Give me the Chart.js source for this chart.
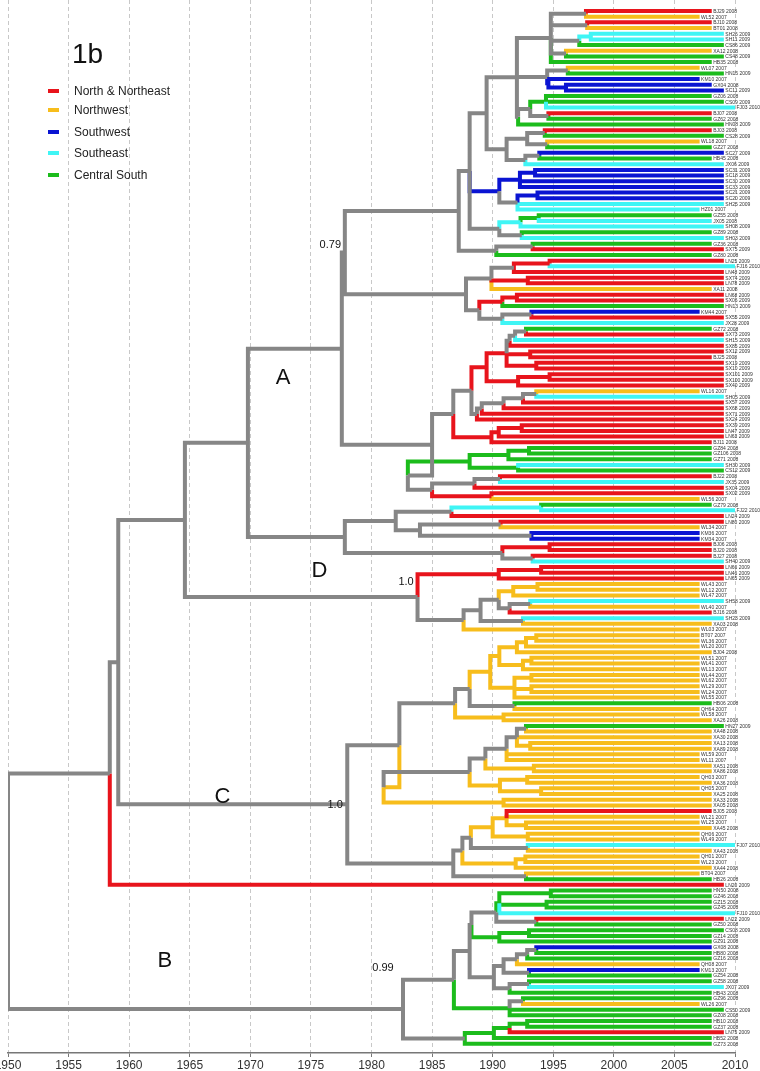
<!DOCTYPE html>
<html>
<head>
<meta charset="utf-8">
<script src="https://cdn.jsdelivr.net/npm/chart.js@4.4.0/dist/chart.umd.min.js"></script>
<style>
  body { margin: 0; background: #fff; }
  #wrap { position: relative; width: 760px; height: 1071px; }
  #title { position: absolute; left: 72px; top: 40px; font: 28px/1 "Liberation Sans", sans-serif; color: #111; }
  .leg { position: absolute; left: 48px; height: 14px; display: flex; align-items: center; font: 12px/1 "Liberation Sans", sans-serif; color: #222; }
  .leg span { display: inline-block; width: 11px; height: 4px; margin-right: 15px; }
</style>
</head>
<body>
<div id="wrap">
  <canvas id="tree" width="760" height="1071"></canvas>
  <div id="title">1b</div>
  <div class="leg" style="top:84px"><span style="background:#e8141c"></span>North &amp; Northeast</div>
  <div class="leg" style="top:103px"><span style="background:#f7bd1c"></span>Northwest</div>
  <div class="leg" style="top:125px"><span style="background:#0a14d2"></span>Southwest</div>
  <div class="leg" style="top:146px"><span style="background:#3ff5f5"></span>Southeast</div>
  <div class="leg" style="top:168px"><span style="background:#1cbc1c"></span>Central South</div>
</div>
<script>
// tips, top to bottom
const leafNames = [
  "BJ29 2008","WL52 2007","BJ10 2008","BT01 2008","SH26 2009","SH11 2009","CS86 2009","XA12 2008","CS48 2009","HB35 2008",
  "WL07 2007","HN15 2009","KM10 2007","GX04 2008","SC11 2009","GZ06 2008","CS09 2009","FJ03 2010","BJ07 2008","GZ62 2008",
  "HN08 2009","BJ03 2008","CS28 2009","WL18 2007","GZ27 2008","SC27 2009","HB45 2008","JX06 2009","SC31 2009","SC18 2009",
  "SC30 2009","SC33 2009","SC21 2009","SC20 2009","SH25 2009","HZ01 2007","GZ55 2008","JX05 2008","SH08 2009","GZ89 2008",
  "SH03 2009","GZ36 2008","SX75 2009","GZ80 2008","LN25 2009","FJ16 2010","LN48 2009","SX74 2009","LN78 2009","XA11 2008",
  "LN68 2009","SX06 2009","HN13 2009","KM44 2007","SX55 2009","JX28 2009","GZ72 2008","SX73 2009","SH15 2009","SX85 2009",
  "SX12 2009","BJ25 2008","SX19 2009","SX10 2009","SX101 2009","SX100 2009","SX40 2009","WL16 2007","SH05 2009","SX57 2009",
  "SX68 2009","SX71 2009","SX24 2009","SX39 2009","LN47 2009","LN63 2009","BJ11 2008","GZ84 2008","GZ106 2008","GZ71 2008",
  "SH30 2009","CS12 2009","BJ22 2008","JX35 2009","SX04 2009","SX02 2009","WL56 2007","GZ79 2008","FJ22 2010","LN24 2009",
  "LN80 2009","WL34 2007","KM36 2007","KM34 2007","BJ06 2008","BJ20 2008","BJ27 2008","SH40 2009","LN66 2009","LN46 2009",
  "LN65 2009","WL43 2007","WL12 2007","WL47 2007","SH58 2009","WL40 2007","BJ16 2008","SH23 2009","XA03 2008","WL03 2007",
  "BT07 2007","WL36 2007","WL20 2007","BJ04 2008","WL51 2007","WL41 2007","WL13 2007","WL44 2007","WL62 2007","WL29 2007",
  "WL24 2007","WL55 2007","HB06 2008","QH64 2007","WL58 2007","XA26 2008","HN27 2009","XA48 2008","XA30 2008","XA13 2008",
  "XA89 2008","WL59 2007","WL11 2007","XA51 2008","XA86 2008","QH03 2007","XA36 2008","QH05 2007","XA25 2008","XA33 2008",
  "XA05 2008","BJ05 2008","WL21 2007","WL25 2007","XA45 2008","QH06 2007","WL49 2007","FJ07 2010","XA43 2008","QH01 2007",
  "WL23 2007","XA44 2008","BT04 2007","HB26 2008","LN20 2009","HN50 2008","GZ46 2008","GZ15 2008","GZ45 2008","FJ10 2010",
  "LN22 2009","GZ50 2008","CS08 2009","GZ14 2008","GZ91 2008","GX08 2008","HB80 2008","GZ16 2008","QH08 2007","KM13 2007",
  "GZ54 2008","GZ58 2008","JX07 2009","HB43 2008","GZ96 2008","WL26 2007","CS50 2009","GZ08 2008","HB10 2008","GZ37 2008",
  "LN75 2009","HB52 2008","GZ73 2008"
];

// r North & Northeast, y Northwest, b Southwest, c Southeast, g Central South
const leafRegions = (
  "r y r y c c g y g g y g b b b g g c r g " +
  "g r g y g b g c b b b b b b c c g c c g " +
  "c g r g r c r r r y r r g b r c g r c r " +
  "r r r r r r r y c r r r r r r r r g g g " +
  "c g r c r r y g c r r y b b r r r c r r " +
  "r y y y c y r c y y y y y y y y y y y y " +
  "y y g y y y g y y y y y y y y y y y y y " +
  "y r y y y y y c y y y y y g r g g g g c " +
  "r g g g g b g g y b g g c g g y g g g g r g g"
).trim().split(/\s+/);

const tickYears = [1950, 1955, 1960, 1965, 1970, 1975, 1980, 1985, 1990, 1995, 2000, 2005, 2010];

const regionColors = { x: "#868686", r: "#e8141c", y: "#f7bd1c", b: "#0a14d2", c: "#3ff5f5", g: "#1cbc1c" };

// internal nodes: [date, branch colour, ...children]; numbers are tips (1-based)
const cladeTop = [1987.2, "x",
  [1988.1, "x",
    [1989.5, "x",
      [1992.0, "x",
        [1994.8, "x", [1997.7, "x", 1, 2], [1997.8, "x", 3, 4], [1997.15, "x", [1998.1, "c", 5, 6], 7], [1996.05, "x", 8, 9], 10],
        [1994.5, "x", [1996.2, "x", 11, 12], [1994.6, "b", 13, [1996.05, "b", 14, 15]]],
        [1992.1, "x", [1993.1, "x", [1994.4, "g", 16, 17, 18], [1994.6, "x", 19, 20]], 21]],
      [1991.15, "x", [1992.85, "x", [1994.3, "x", 22, 23], [1994.5, "x", 24, 25]], [1992.7, "x", [1993.85, "x", 26, 27], 28]]],
    [1990.55, "b", [1992.25, "b", [1993.5, "b", 29, 30], 31, 32], [1992.05, "x", [1993.7, "b", 33, 34], 35, 36]],
    [1990.55, "x", [1992.3, "c", [1993.8, "g", 37, 38], 39], [1992.4, "x", 40, 41]]],
  [1990.3, "x", [1993.3, "x", 42, 43], 44]];

const cladeRed1 = [1987.8, "x",
  [1989.9, "x", [1991.75, "x", [1994.7, "r", 45, 46], 47], [1992.9, "r", 48, 49], 50],
  [1988.9, "x", [1990.8, "r", [1992.0, "r", 51, 52], 53], [1990.8, "x", [1993.2, "x", 54, 55], 56]]];

const cladeRed2 = [1986.75, "x",
  [1988.25, "x",
    [1989.5, "r",
      [1991.15, "r", [1991.4, "x", [1991.85, "x", [1992.75, "x", 57, 58], 59], 60], [1993.1, "r", 61, 62], [1993.6, "r", 63, 64]],
      [1992.1, "r", [1994.7, "r", 65, 66], 67]],
    [1988.7, "x", [1989.1, "x", [1990.9, "x", [1992.5, "x", [1993.6, "x", 68, 69], 70], 71], 72], 73]],
  [1989.9, "r", [1990.5, "r", [1992.4, "r", 74, 75], 76], 77]];

const cladeAmid = [1983.0, "x",
  [1988.1, "g", [1991.3, "g", [1993.0, "g", 78, 79], 80], [1992.1, "g", 81, 82]],
  [1985.0, "x", [1988.5, "x", [1990.6, "x", 83, 84], 85], [1989.9, "r", 86, 87]]];

const cladeAbot = [1977.8, "x",
  [1982.0, "x", [1986.6, "x", [1994.0, "c", 88, 89], 90], [1984.0, "x", [1990.65, "x", 91, 92], [1993.2, "x", 93, 94]]],
  [1990.8, "x", [1994.7, "r", 95, 96], [1993.3, "x", 97, 98]]];

const cladeA = [1977.55, "x",
  [1977.8, "x", cladeTop, cladeRed1],
  [1985.0, "x", cladeRed2, cladeAmid]];

const cladeD = [1983.8, "x",
  [1990.5, "r", [1994.0, "r", 99, 100], 101],
  [1987.6, "x",
    [1989.0, "x", [1990.5, "x", [1991.7, "y", [1993.7, "y", 102, 103], 104], [1991.4, "x", [1993.1, "x", 105, 106], 107]], [1992.5, "x", 108, 109]],
    110]];

const cladeCtop = [1986.9, "x",
  [1988.1, "x",
    [1989.8, "y",
      [1990.55, "y", [1992.0, "y", [1992.75, "y", [1993.6, "y", 111, 112], 113], 114], [1992.5, "y", [1993.2, "y", 115, 116], 117]],
      [1991.8, "y", [1993.2, "y", 118, 119], [1993.2, "y", 120, 121], 122]],
    [1991.8, "x", 123, 124]],
  [1990.9, "y", 125, 126]];

const cladeCmid = [1981.0, "y",
  [1988.1, "x",
    [1989.4, "x", [1991.15, "x", [1992.0, "x", [1992.75, "x", 127, 128], 129, [1993.1, "y", 130, 131]], 132, 133], [1993.4, "y", 134, 135]],
    [1990.6, "y", [1992.85, "y", 136, 137], [1994.0, "y", 138, 139]]],
  [1990.9, "y", 140, 141]];

const cladeCbot = [1986.75, "x",
  [1987.5, "x",
    [1988.2, "x", [1990.0, "y", [1991.15, "y", 142, 143, [1992.75, "y", 144, 145]], [1992.9, "y", 146, 147]], [1992.9, "x", 148, 149]],
    [1991.9, "y", [1992.7, "y", 150, 151], 152]],
  [1992.75, "x", 153, 154]];

const cladeC = [1978.0, "x", [1982.3, "x", cladeCtop, cladeCmid], cladeCbot];

const cladeBtop = [1986.8, "x",
  [1988.1, "x",
    [1988.25, "x",
      [1990.3, "x", [1990.55, "g", [1994.8, "g", 156, 157], [1994.45, "g", 158, 159], 160], [1993.6, "x", 161, 162]],
      [1990.55, "g", [1993.0, "g", 163, 164], 165]],
    [1990.1, "x",
      [1990.9, "x", [1992.0, "x", [1992.85, "x", [1993.6, "x", 166, 167], 168], 169], [1993.0, "x", 170, 171]],
      [1991.4, "x", [1993.0, "x", 172, 173], 174]]],
  [1991.4, "g", [1992.5, "x", 175, 176], 177, 178]];

const cladeBbot = [1987.7, "x", [1990.1, "g", [1991.4, "g", [1992.85, "g", 179, 180], 181], 182], 183];

const cladeB = [1982.6, "x", cladeBtop, cladeBbot];

const tree = [1950.0, "x",
  [1958.4, "x", [1959.1, "x", [1964.6, "x", [1969.8, "x", cladeA, cladeAbot], cladeD], cladeC], 155],
  cladeB];

const cladeLabels = [
  { text: "A", year: 1972.7, row: 64.7, size: 22 },
  { text: "0.79", year: 1976.6, row: 41.2, size: 11 },
  { text: "D", year: 1975.7, row: 98.7, size: 22 },
  { text: "1.0", year: 1982.85, row: 100.6, size: 11 },
  { text: "C", year: 1967.7, row: 138.5, size: 22 },
  { text: "1.0", year: 1977.0, row: 139.9, size: 11 },
  { text: "B", year: 1962.95, row: 167.4, size: 22 },
  { text: "0.99", year: 1980.95, row: 168.7, size: 11 }
];

function tipDate(i) {
  const yr = parseInt(leafNames[i].split(" ")[1]);
  return Math.min(yr + 0.08, 2010);
}

// walk the tree, collecting elbow branches per colour
const segs = {};
Object.keys(regionColors).forEach(k => segs[k] = []);

function place(node) {
  if (typeof node === "number") {
    const i = node - 1;
    return { x: tipDate(i), y: i, col: leafRegions[i] };
  }
  const [date, col, ...kids] = node;
  const placed = kids.map(place);
  const y = (placed[0].y + placed[placed.length - 1].y) / 2;
  placed.forEach(k => {
    segs[k.col].push({ x: date, y: y }, { x: date, y: k.y }, { x: k.x, y: k.y }, { x: k.x, y: null });
  });
  return { x: date, y: y, col: col };
}
place(tree);

const order = ["x", "r", "y", "b", "c", "g"];
const datasets = order.map(k => ({
  data: segs[k],
  showLine: true,
  borderColor: regionColors[k],
  borderWidth: 4,
  pointRadius: 0,
  spanGaps: false,
  borderJoinStyle: "miter",
  borderCapStyle: "butt"
}));

const labelPlugin = {
  id: "labels",
  afterDatasetsDraw(chart) {
    const { ctx, scales } = chart;
    ctx.save();
    ctx.fillStyle = "#333";
    ctx.font = "5px 'Liberation Sans', sans-serif";
    ctx.textBaseline = "middle";
    leafNames.forEach((name, i) => {
      ctx.fillText(name, scales.x.getPixelForValue(tipDate(i)) + 1.5, scales.y.getPixelForValue(i) + 0.5);
    });
    ctx.fillStyle = "#111";
    ctx.textAlign = "center";
    cladeLabels.forEach(l => {
      ctx.font = l.size + "px 'Liberation Sans', sans-serif";
      ctx.fillText(l.text, scales.x.getPixelForValue(l.year), scales.y.getPixelForValue(l.row));
    });
    ctx.restore();
  }
};

new Chart(document.getElementById("tree"), {
  type: "scatter",
  data: { datasets },
  options: {
    responsive: false,
    animation: false,
    layout: { padding: { left: 8, right: 25, top: 0, bottom: 0 } },
    plugins: { legend: { display: false }, tooltip: { enabled: false } },
    scales: {
      x: {
        type: "linear",
        min: 1950,
        max: 2010,
        afterBuildTicks: s => { s.ticks = tickYears.map(v => ({ value: v })); },
        afterFit: s => { s.height = 18; s.paddingLeft = 0; s.paddingRight = 0; },
        grid: { color: "#c8c8c8", tickLength: 4, tickColor: "#777", tickBorderDash: [] },
        border: { display: true, color: "#777", width: 1.5, dash: [4, 3] },
        ticks: { color: "#333", padding: 1, font: { size: 12, family: "'Liberation Sans', sans-serif" }, callback: v => v }
      },
      y: {
        type: "linear",
        display: false,
        reverse: true,
        min: -1.94,
        max: 183.64
      }
    }
  },
  plugins: [labelPlugin]
});
</script>
</body>
</html>
